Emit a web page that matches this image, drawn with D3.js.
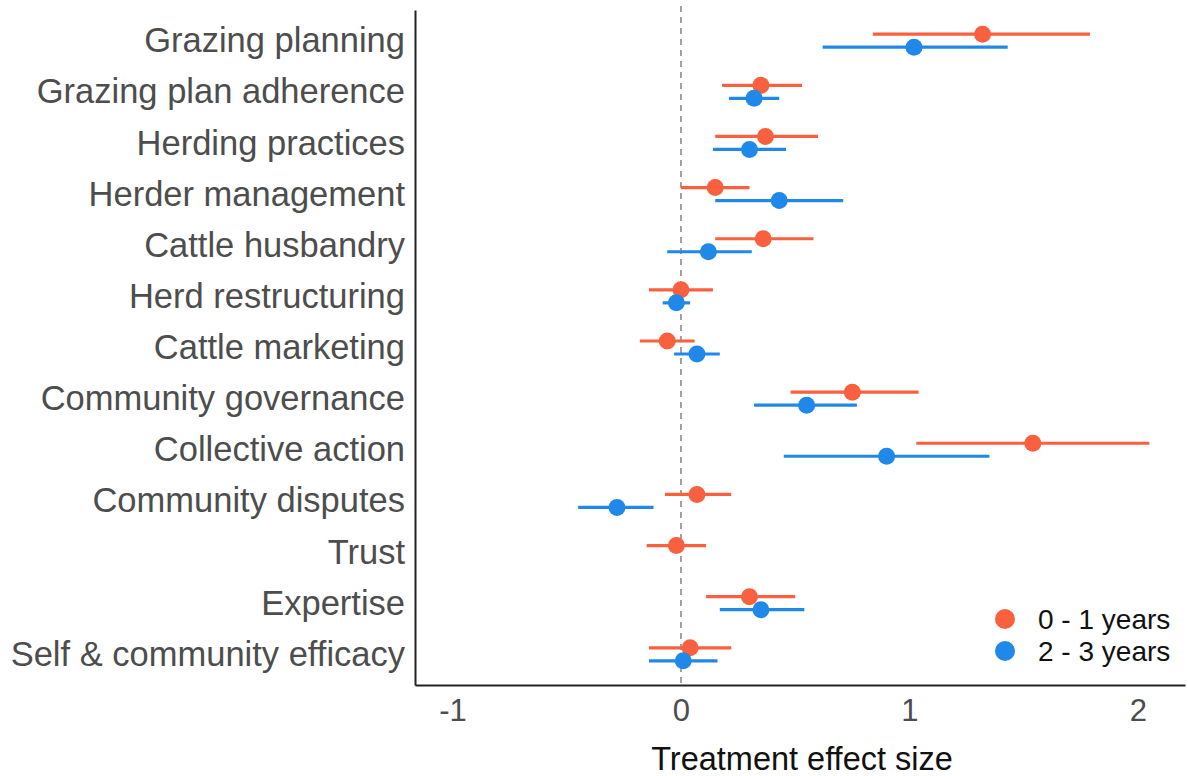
<!DOCTYPE html>
<html>
<head>
<meta charset="utf-8">
<script src="https://cdn.jsdelivr.net/npm/d3@7"></script>
<style>
  body { margin: 0; background: #fff; }
  text { font-family: "Liberation Sans", Arial, sans-serif; }
</style>
</head>
<body>
<svg id="chart" width="1188" height="776"></svg>
<script>
var categories = ["Grazing planning", "Grazing plan adherence", "Herding practices",
  "Herder management", "Cattle husbandry", "Herd restructuring", "Cattle marketing",
  "Community governance", "Collective action", "Community disputes", "Trust",
  "Expertise", "Self & community efficacy"];

// 0 - 1 years
var earlyEst = [1.32, 0.35, 0.37, 0.15, 0.36, 0.0, -0.06, 0.75, 1.54, 0.07, -0.02, 0.30, 0.04];
var earlyLo  = [0.84, 0.18, 0.15, 0.0, 0.15, -0.14, -0.18, 0.48, 1.03, -0.07, -0.15, 0.11, -0.14];
var earlyHi  = [1.79, 0.53, 0.60, 0.30, 0.58, 0.14, 0.06, 1.04, 2.05, 0.22, 0.11, 0.50, 0.22];

// 2 - 3 years (no estimate for Trust)
var lateEst = [1.02, 0.32, 0.30, 0.43, 0.12, -0.02, 0.07, 0.55, 0.90, -0.28, null, 0.35, 0.01];
var lateLo  = [0.62, 0.21, 0.14, 0.15, -0.06, -0.08, -0.03, 0.32, 0.45, -0.45, null, 0.17, -0.14];
var lateHi  = [1.43, 0.43, 0.46, 0.71, 0.31, 0.04, 0.17, 0.77, 1.35, -0.12, null, 0.54, 0.16];

var xTicks = [-1, 0, 1, 2];
var seriesNames = ["0 - 1 years", "2 - 3 years"];
var colors = ["#F9603F", "#1F88E8"];

var mLeft = 415, mRight = 1185, mTop = 6, mBottom = 685;
var svg = d3.select("#chart");

var x = d3.scaleLinear().domain([-1.164, 2.206]).range([mLeft, mRight]);
var y = d3.scalePoint().domain(categories).range([mTop + 4, mBottom]).padding(0.6);
var dodge = 6.5;

// zero reference line
svg.append("line")
  .attr("x1", x(0)).attr("x2", x(0))
  .attr("y1", mTop).attr("y2", mBottom)
  .attr("stroke", "#8c8c8c")
  .attr("stroke-width", 1.6)
  .attr("stroke-dasharray", "6,5");

var series = [
  { name: seriesNames[0], est: earlyEst, lo: earlyLo, hi: earlyHi, off: -dodge, color: colors[0] },
  { name: seriesNames[1], est: lateEst, lo: lateLo, hi: lateHi, off: dodge, color: colors[1] }
];

series.forEach(function (s) {
  var rows = categories.map(function (c, i) {
    return { cat: c, est: s.est[i], lo: s.lo[i], hi: s.hi[i] };
  }).filter(function (d) { return d.est !== null; });

  var g = svg.append("g");
  g.selectAll("line")
    .data(rows)
    .enter()
    .append("line")
    .attr("x1", function (d) { return x(d.lo); })
    .attr("x2", function (d) { return x(d.hi); })
    .attr("y1", function (d) { return y(d.cat) + s.off; })
    .attr("y2", function (d) { return y(d.cat) + s.off; })
    .attr("stroke", s.color)
    .attr("stroke-width", 3.2);
  g.selectAll("circle")
    .data(rows)
    .enter()
    .append("circle")
    .attr("cx", function (d) { return x(d.est); })
    .attr("cy", function (d) { return y(d.cat) + s.off; })
    .attr("r", 8.5)
    .attr("fill", s.color);
});

// axes
var xAxis = svg.append("g")
  .attr("transform", "translate(0," + mBottom + ")")
  .call(d3.axisBottom(x).tickValues(xTicks).tickSize(0).tickPadding(14)
    .tickFormat(function (d) { return d; }));
xAxis.select(".domain").attr("stroke", "#222").attr("stroke-width", 2);
xAxis.selectAll("text")
  .attr("font-size", 31)
  .attr("fill", "#4d4d4d")
  .style("font-family", "Liberation Sans, Arial, sans-serif");

var yAxis = svg.append("g")
  .attr("transform", "translate(" + mLeft + ",0)")
  .call(d3.axisLeft(y).tickSize(0).tickPadding(10));
yAxis.select(".domain").attr("stroke", "#222").attr("stroke-width", 2);
yAxis.selectAll("text")
  .attr("font-size", 34.5)
  .attr("fill", "#4d4d4d")
  .style("font-family", "Liberation Sans, Arial, sans-serif");

// axis title
svg.append("text")
  .attr("x", (mLeft + mRight) / 2 + 2)
  .attr("y", 770)
  .attr("text-anchor", "middle")
  .attr("font-size", 32.5)
  .attr("fill", "#111")
  .text("Treatment effect size");

// legend
var legend = svg.append("g").attr("transform", "translate(1005,619)");
seriesNames.forEach(function (n, i) {
  legend.append("circle")
    .attr("cx", 0).attr("cy", i * 32)
    .attr("r", 10)
    .attr("fill", colors[i]);
  legend.append("text")
    .attr("x", 33).attr("y", i * 32)
    .attr("dy", "0.35em")
    .attr("font-size", 28)
    .attr("fill", "#111")
    .text(n);
});
</script>
</body>
</html>
